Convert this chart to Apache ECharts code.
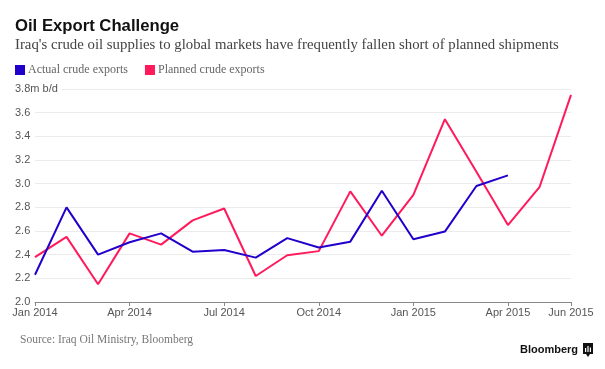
<!DOCTYPE html>
<html>
<head>
<meta charset="utf-8">
<script src="https://cdn.jsdelivr.net/npm/echarts@6/dist/echarts.min.js"></script>
<style>html,body{margin:0;padding:0;background:#fff;}#c{width:605px;height:369px;}</style>
</head>
<body>
<div id="c"></div>
<script>
var months = ['Jan 2014','Feb 2014','Mar 2014','Apr 2014','May 2014','Jun 2014','Jul 2014','Aug 2014','Sep 2014','Oct 2014','Nov 2014','Dec 2014','Jan 2015','Feb 2015','Mar 2015','Apr 2015','May 2015','Jun 2015'];
var tickLabels = ['Jan 2014','Apr 2014','Jul 2014','Oct 2014','Jan 2015','Apr 2015','Jun 2015'];
var actual = [2.23,2.80,2.40,2.505,2.58,2.425,2.44,2.375,2.54,2.46,2.51,2.94,2.53,2.595,2.98,3.07];
var planned = [2.38,2.55,2.15,2.58,2.485,2.69,2.79,2.22,2.395,2.43,2.935,2.56,2.905,3.545,3.10,2.65,2.97,3.75];
var yTicks = [2.0,2.2,2.4,2.6,2.8,3.0,3.2,3.4,3.6,3.8];

var BLUE = '#2200cc', RED = '#ff1a5c';
var serif = '"Liberation Serif","DejaVu Serif",serif';
var sans = '"Liberation Sans",Arial,sans-serif';

function showTick(i){ return tickLabels.indexOf(months[i]) >= 0; }

var chart = echarts.init(document.getElementById('c'));
chart.setOption({
  animation: false,
  backgroundColor: '#fff',
  title: [
    {text: 'Oil Export Challenge', left: 15, top: 18, padding: 0, textStyle: {fontFamily: sans, fontWeight: 'bold', fontSize: 16.7, color: '#111'}},
    {text: "Iraq's crude oil supplies to global markets have frequently fallen short of planned shipments", left: 15, top: 38, padding: 0, textStyle: {fontFamily: serif, fontWeight: 'normal', fontSize: 14.8, color: '#444'}},
    {text: 'Source: Iraq Oil Ministry, Bloomberg', left: 20, top: 334, padding: 0, textStyle: {fontFamily: serif, fontWeight: 'normal', fontSize: 11.5, color: '#777'}}
  ],
  legend: {
    left: 15, top: 64, padding: 0, icon: 'rect', itemWidth: 10, itemHeight: 10, itemGap: 17,
    textStyle: {fontFamily: serif, fontSize: 12, color: '#666', padding: [0,0,0,-2]},
    data: ['Actual crude exports', 'Planned crude exports']
  },
  grid: {left: 35, right: 34, top: 89, bottom: 67},
  xAxis: {
    type: 'category', data: months, boundaryGap: false,
    axisLine: {lineStyle: {color: '#888', width: 1}},
    axisTick: {show: true, length: 4, interval: function(i){return showTick(i);}, lineStyle: {color: '#888'}},
    axisLabel: {interval: function(i){return showTick(i);}, fontFamily: sans, fontSize: 11, color: '#555', margin: 5},
    splitLine: {show: false}
  },
  yAxis: {
    type: 'value', min: 2.0, max: 3.8, interval: 0.2,
    axisLine: {show: false}, axisTick: {show: false},
    axisLabel: {
      align: 'left', margin: 20, fontFamily: sans, fontSize: 11, color: '#555',
      formatter: function(v){ return Math.abs(v - 3.8) < 1e-6 ? '{top|3.8m b/d}' : v.toFixed(1); },
      rich: {top: {fontFamily: sans, fontSize: 11, color: '#555', backgroundColor: '#fff', padding: [2,4,2,0]}}
    },
    splitLine: {lineStyle: {color: '#ebebeb', width: 1}}
  },
  series: [
    {name: 'Actual crude exports', type: 'line', data: actual, symbol: 'none', lineStyle: {color: BLUE, width: 2}, itemStyle: {color: BLUE}, z: 3},
    {name: 'Planned crude exports', type: 'line', data: planned, symbol: 'none', lineStyle: {color: RED, width: 2}, itemStyle: {color: RED}, z: 2}
  ],
  graphic: [
    {type: 'text', x: 578, y: 344, style: {text: 'Bloomberg', align: 'right', fontFamily: sans, fontWeight: 'bold', fontSize: 11, fill: '#111'}},
    {type: 'group', x: 583, y: 343, children: [
      {type: 'rect', shape: {x: 0, y: 0, width: 10, height: 11}, style: {fill: '#111'}},
      {type: 'polygon', shape: {points: [[3,11],[7,11],[5,14]]}, style: {fill: '#111'}},
      {type: 'rect', shape: {x: 2, y: 5, width: 1.2, height: 4}, style: {fill: '#fff'}},
      {type: 'rect', shape: {x: 4.4, y: 3, width: 1.2, height: 6}, style: {fill: '#fff'}},
      {type: 'rect', shape: {x: 6.8, y: 4.5, width: 1.2, height: 4.5}, style: {fill: '#fff'}}
    ]}
  ]
});
</script>
</body>
</html>
